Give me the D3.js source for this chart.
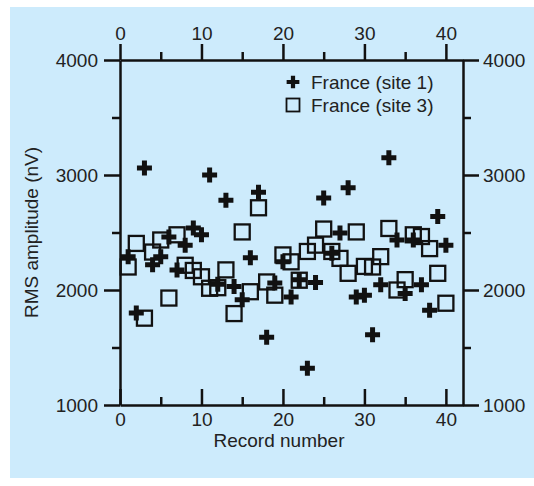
<!DOCTYPE html>
<html>
<head>
<meta charset="utf-8">
<script src="https://cdn.jsdelivr.net/npm/d3@7"></script>
<style>
  html, body { margin: 0; padding: 0; background: #fff; }
  svg { display: block; }
</style>
</head>
<body>
<div id="chart"></div>
<script>
(function () {
  "use strict";

  var FONT = "'Liberation Sans', Arial, sans-serif";
  var BG = "#cdebfc";
  var INK = "#111";

  // Record numbers
  var records = [1, 2, 3, 4, 5, 6, 7, 8, 9, 10, 11, 12, 13, 14, 15, 16, 17, 18, 19, 20,
                 21, 22, 23, 24, 25, 26, 27, 28, 29, 30, 31, 32, 33, 34, 35, 36, 37, 38, 39, 40];
  // France (site 1), RMS amplitude in nV
  var site1 = [2290, 1800, 3060, 2220, 2290, 2460, 2175, 2390, 2540, 2480,
               3000, 2050, 2780, 2030, 1915, 2280, 2850, 1590, 2060, 2245,
               1940, 2090, 1320, 2065, 2800, 2320, 2495, 2890, 1940, 1955,
               1610, 2045, 3150, 2435, 1970, 2435, 2045, 1825, 2640, 2390];
  // France (site 3)
  var site3 = [2200, 2405, 1755, 2330, 2435, 1930, 2480, 2215, 2170, 2115,
               2015, 2020, 2175, 1795, 2505, 1985, 2715, 2070, 1955, 2305,
               2245, 2085, 2335, 2390, 2530, 2335, 2275, 2145, 2505, 2205,
               2200, 2290, 2535, 2000, 2090, 2480, 2465, 2360, 2145, 1885];

  var xMajor = [0, 10, 20, 30, 40];
  var xMinor = [5, 15, 25, 35];
  var yMajor = [1000, 2000, 3000, 4000];
  var yMinor = [1500, 2500, 3500];
  var seriesNames = ["France (site 1)", "France (site 3)"];

  var W = 534, H = 486;
  var svg = d3.select("#chart").append("svg")
    .attr("width", W).attr("height", H);

  svg.append("rect").attr("x", 10).attr("y", 7)
    .attr("width", W - 10).attr("height", 471)
    .attr("fill", BG);

  var x = d3.scaleLinear().domain([0, 42.1]).range([120, 463]);
  var y = d3.scaleLinear().domain([1000, 4000]).range([405, 60]);

  var MAJ = 16, MIN = 8;

  function styleAxis(g) {
    g.select(".domain").attr("stroke", INK).attr("stroke-width", 2.5);
    g.selectAll(".tick line").attr("stroke", INK).attr("stroke-width", 2.5);
    g.selectAll(".tick text").attr("fill", "#222")
      .attr("font-size", "19px").attr("font-family", FONT);
  }

  function drawAxis(gen, majors, minors, tx, ty, pad, sign) {
    var g = svg.append("g").attr("transform", "translate(" + tx + "," + ty + ")");
    g.call(gen.tickValues(majors).tickSizeInner(MAJ * sign).tickSizeOuter(0)
      .tickPadding(pad).tickFormat(d3.format("d")));
    styleAxis(g);
    var m = svg.append("g").attr("transform", "translate(" + tx + "," + ty + ")");
    m.call(gen.tickValues(minors).tickSizeInner(MIN * sign).tickSizeOuter(0)
      .tickFormat(""));
    styleAxis(m);
    m.select(".domain").remove();
  }

  drawAxis(d3.axisTop(x), xMajor, xMinor, 0, y(4000), 4, 1);
  drawAxis(d3.axisBottom(x), xMajor, xMinor, 0, y(1000), 8, -1);
  drawAxis(d3.axisLeft(y), yMajor, yMinor, x(0), 0, 6, 1);
  drawAxis(d3.axisRight(y), yMajor, yMinor, x.range()[1], 0, 4, 1);

  // Axis titles
  svg.append("text")
    .attr("transform", "translate(31," + ((y(1000) + y(4000)) / 2) + ") rotate(-90)")
    .attr("text-anchor", "middle").attr("dominant-baseline", "central")
    .attr("fill", "#222").attr("font-size", "19px").attr("font-family", FONT)
    .text("RMS amplitude (nV)");
  svg.append("text")
    .attr("x", 279).attr("y", 447)
    .attr("text-anchor", "middle")
    .attr("fill", "#222").attr("font-size", "19px").attr("font-family", FONT)
    .text("Record number");

  var cross = d3.symbol().type(d3.symbolCross).size(125);

  // Site 3 squares
  svg.append("g").selectAll("rect")
    .data(records.map(function (r, i) { return [r, site3[i]]; }))
    .enter().append("rect")
    .attr("x", function (d) { return x(d[0]) - 7.5; })
    .attr("y", function (d) { return y(d[1]) - 7.5; })
    .attr("width", 15).attr("height", 15)
    .attr("fill", "none").attr("stroke", INK).attr("stroke-width", 2.3);

  // Site 1 crosses
  svg.append("g").selectAll("path")
    .data(records.map(function (r, i) { return [r, site1[i]]; }))
    .enter().append("path")
    .attr("transform", function (d) { return "translate(" + x(d[0]) + "," + y(d[1]) + ")"; })
    .attr("d", cross)
    .attr("fill", INK);

  // Legend
  var leg = svg.append("g").attr("transform", "translate(293,82)");
  leg.append("path").attr("d", d3.symbol().type(d3.symbolCross).size(90)).attr("fill", INK);
  leg.append("rect").attr("x", -6.5).attr("y", 16.5).attr("width", 13).attr("height", 13)
    .attr("fill", "none").attr("stroke", INK).attr("stroke-width", 1.8);
  seriesNames.forEach(function (name, i) {
    leg.append("text").attr("x", 18).attr("y", i * 23)
      .attr("dominant-baseline", "central")
      .attr("fill", "#222").attr("font-size", "19px").attr("font-family", FONT)
      .text(name);
  });
})();
</script>
</body>
</html>
